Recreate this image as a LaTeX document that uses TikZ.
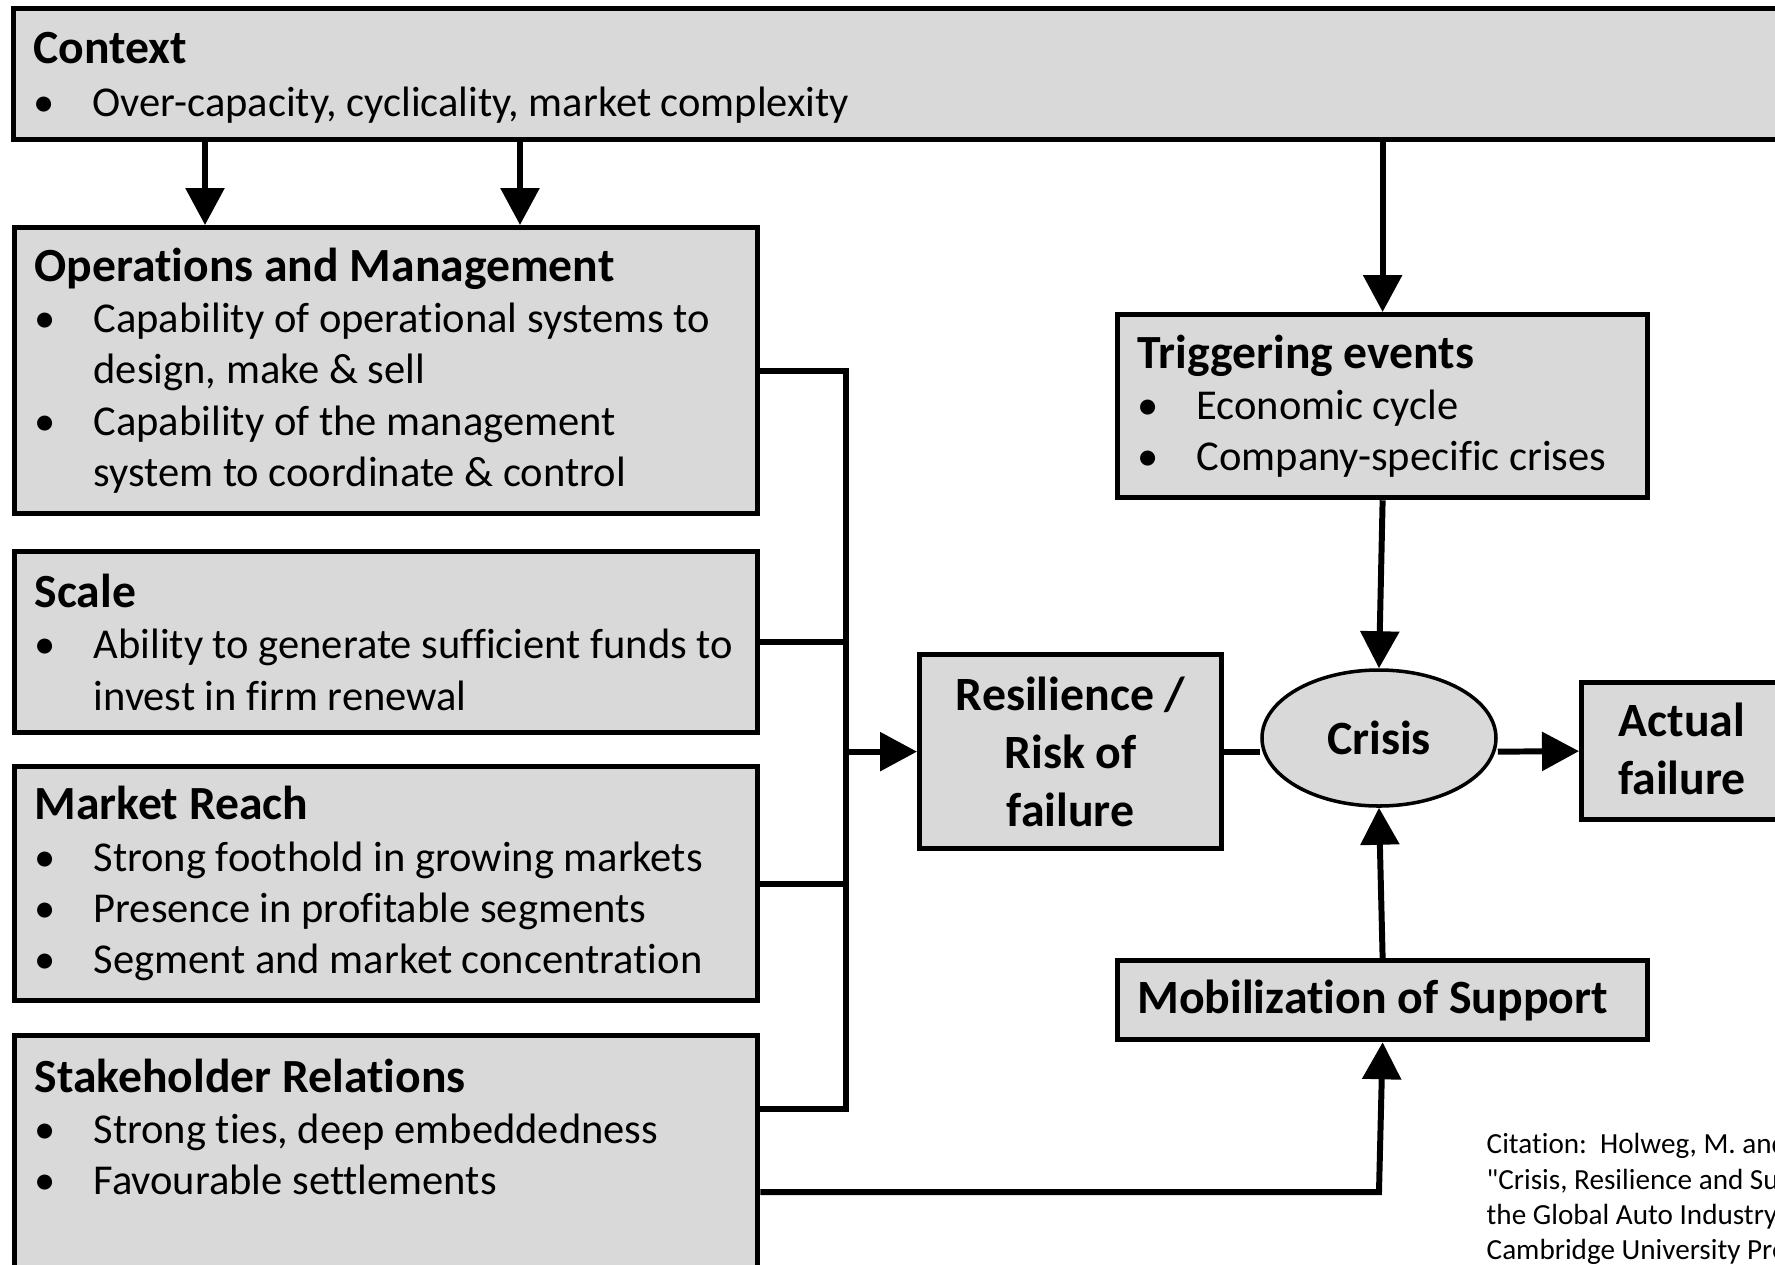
\documentclass[tikz,border=0pt]{standalone}
\usepackage{fontspec}
\setmainfont{Carlito}[Ligatures=NoCommon]
\newfontfamily\citefont{Carlito}[Ligatures={TeXOff,NoCommon}]
\usetikzlibrary{arrows.meta, positioning, shapes.geometric, calc}

\definecolor{boxgray}{RGB}{217,217,217}

% heading, bullet line and its continuation
\newcommand{\hd}[1]{{\fontsize{13.55}{16}\selectfont\bfseries #1}}
\newcommand{\bl}[1]{\mbox{\makebox[5.9mm][l]{\textbullet}#1}}
\newcommand{\cl}[1]{\mbox{\hspace*{5.9mm}#1}}

\tikzset{
    box/.style={draw, line width=1.5pt, fill=boxgray, rectangle, anchor=north west,
        inner xsep=2mm, inner ysep=0pt, align=flush left,
        font=\fontsize{12.1}{14.6}\selectfont},
    midbox/.style={draw, line width=1.5pt, fill=boxgray, rectangle, anchor=north west,
        inner sep=0pt, align=center, font=\fontsize{13.6}{16.5}\selectfont\bfseries},
    crisis/.style={draw, line width=1pt, fill=boxgray, ellipse, inner sep=0pt,
        font=\fontsize{13.6}{16.5}\selectfont\bfseries},
    ln/.style={line width=1.7pt},
    arr/.style={line width=1.7pt, -{Triangle[length=3.7mm, width=3.8mm]}},
    cite/.style={anchor=north west, inner sep=0pt, align=left,
        font=\citefont\fontsize{8.3}{10}\selectfont}
}

\begin{document}
\begin{tikzpicture}[x=0.1mm, y=-0.1mm]
    \clip (0,0) rectangle (1775,1265);
    \useasboundingbox (0,0) rectangle (1775,1265);

    % left column
    \node[box, text width=175mm, minimum height=13.1mm] (ctx) at (11,6)
        {\rule{0pt}{10.8pt}\hd{Context}\\[0.2mm] \bl{Over-capacity, cyclicality, market complexity}};
    \node[box, text width=70.3mm, minimum height=28.6mm] (ops) at (12,225)
        {\hd{Operations and Management}\\
         \bl{Capability of operational systems to}\\
         \cl{design, make \& sell}\\
         \bl{Capability of the management}\\
         \cl{system to coordinate \& control}};
    \node[box, text width=70.3mm, minimum height=18.1mm] (scale) at (12,549)
        {\hd{Scale}\\
         \bl{Ability to generate sufficient funds to}\\
         \cl{invest in firm renewal}};
    \node[box, text width=70.3mm, minimum height=23.4mm] (mkt) at (12,764)
        {\hd{Market Reach}\\
         \bl{Strong foothold in growing markets}\\
         \bl{Presence in profitable segments}\\
         \bl{Segment and market concentration}};
    \node[box, text width=70.3mm, minimum height=30mm, inner ysep=2.3mm] (stake) at (12,1033)
        {\hd{Stakeholder Relations}\\
         \bl{Strong ties, deep embeddedness}\\
         \bl{Favourable settlements}\\[12mm]\mbox{}};

    % centre and right
    \node[midbox, minimum width=30.2mm, minimum height=19.4mm] (res) at (917,652)
        {Resilience /\\ Risk of\\ failure};
    \node[crisis, minimum width=23.4mm, minimum height=13.6mm] (cri) at (1379,738) {Crisis};
    \node[midbox, minimum width=22mm, minimum height=13.7mm] (act) at (1579,680) {};
    \node[font=\fontsize{13.6}{16.5}\selectfont\bfseries, align=center] (actt) at (1682,749)
        {Actual\\ failure};
    \node[box, text width=49mm, minimum height=18.3mm] (trig) at (1115,312)
        {\hd{Triggering events}\\
         \bl{Economic cycle}\\
         \bl{Company-specific crises}};
    \node[midbox, minimum width=53mm, minimum height=7.9mm] (mob) at (1115,958)
        {\hspace*{-2mm}Mobilization of Support};

    \node[cite] (cit) at (1486,1133)
        {Citation:~~Holweg, M. and\\
         "Crisis, Resilience and Survival\\
         the Global Auto Industry\\
         Cambridge University Press};

    % connectors
    \coordinate (bus) at (846,0);
    \coordinate (turn) at (1379,1192);
    \draw[arr] (ctx.south -| 205,0) -- (ops.north -| 205,0);
    \draw[arr] (ctx.south -| 520,0) -- (ops.north -| 520,0);
    \draw[arr] (ctx.south -| trig.north) -- (trig.north);
    \draw[ln] (ops.east) -- (ops.east -| bus) -- (bus |- 0,1109) -- (stake.east |- 0,1109);
    \draw[ln] (scale.east) -- (scale.east -| bus);
    \draw[ln] (mkt.east) -- (mkt.east -| bus);
    \draw[arr] (res.west -| bus) -- (res.west);
    \draw[ln] (res.east) -- (res.east -| cri.west);
    \draw[arr] (res.east -| cri.east) -- (act.west);
    \draw[arr] (trig.south) -- (cri.north);
    \draw[arr] (mob.north) -- (cri.south);
    \draw[arr] (stake.east |- turn) -- (turn) -- (mob.south);
\end{tikzpicture}
\end{document}
